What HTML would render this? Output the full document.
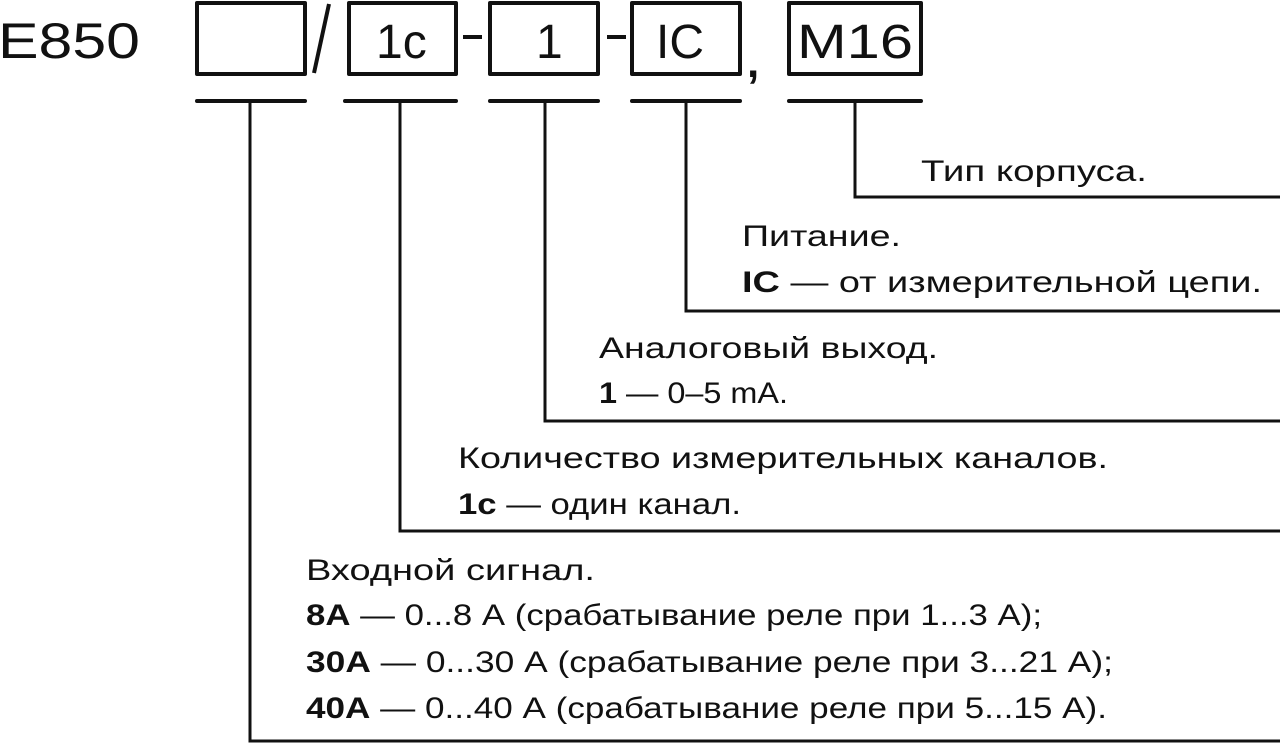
<!DOCTYPE html>
<html><head><meta charset="utf-8"><style>
html,body{margin:0;padding:0;background:#fff;}
svg{display:block;}
text{font-family:"Liberation Sans","DejaVu Sans",sans-serif;fill:#111;}
</style></head><body>
<svg width="1280" height="745" viewBox="0 0 1280 745" xmlns="http://www.w3.org/2000/svg">
<g fill="none" stroke="#111" stroke-width="4" stroke-linejoin="round">
<rect x="197" y="3" width="108" height="71"/>
<rect x="349" y="3" width="107" height="71"/>
<rect x="490" y="3" width="108" height="71"/>
<rect x="632" y="3" width="108" height="71"/>
<rect x="789" y="3" width="132" height="71"/>
</g>
<g stroke="#111" stroke-width="4" stroke-linecap="round">
<line x1="197" y1="101" x2="305" y2="101"/>
<line x1="345" y1="101" x2="456" y2="101"/>
<line x1="490" y1="101" x2="598" y2="101"/>
<line x1="632" y1="101" x2="740" y2="101"/>
<line x1="789" y1="101" x2="921" y2="101"/>
<line x1="314" y1="73" x2="329" y2="4" stroke-linecap="butt"/>
<line x1="463" y1="37" x2="482" y2="37" stroke-linecap="butt"/>
<line x1="607" y1="37" x2="626" y2="37" stroke-linecap="butt"/>
</g>
<g fill="none" stroke="#111" stroke-width="3">
<polyline points="250,101 250,741 1280,741"/>
<polyline points="400,101 400,531 1280,531"/>
<polyline points="545,101 545,421 1280,421"/>
<polyline points="686,101 686,311 1280,311"/>
<polyline points="855,101 855,197 1280,197"/>
</g>
<text x="-2" y="58" font-size="50" textLength="142" lengthAdjust="spacingAndGlyphs">E850</text>
<text x="376" y="58" font-size="48">1c</text>
<text x="536" y="58" font-size="48">1</text>
<text x="656" y="58" font-size="48">IC</text>
<text x="747" y="77" font-size="44" font-weight="bold">,</text>
<text x="797" y="58" font-size="48" textLength="116" lengthAdjust="spacingAndGlyphs">M16</text>
<g font-size="30">
<text x="921" y="181" textLength="226" lengthAdjust="spacingAndGlyphs">Тип корпуса.</text>
<text x="742" y="246" textLength="159" lengthAdjust="spacingAndGlyphs">Питание.</text>
<text x="742" y="292" textLength="520" lengthAdjust="spacingAndGlyphs"><tspan font-weight="bold">IC</tspan> — от измерительной цепи.</text>
<text x="599" y="358" textLength="339" lengthAdjust="spacingAndGlyphs">Аналоговый выход.</text>
<text x="599" y="403" textLength="189" lengthAdjust="spacingAndGlyphs"><tspan font-weight="bold">1</tspan> — 0–5 mA.</text>
<text x="458" y="468" textLength="650" lengthAdjust="spacingAndGlyphs">Количество измерительных каналов.</text>
<text x="458" y="514" textLength="283" lengthAdjust="spacingAndGlyphs"><tspan font-weight="bold">1c</tspan> — один канал.</text>
<text x="306" y="580" textLength="289" lengthAdjust="spacingAndGlyphs">Входной сигнал.</text>
<text x="306" y="625" textLength="736" lengthAdjust="spacingAndGlyphs"><tspan font-weight="bold">8A</tspan> — 0...8 А (срабатывание реле при 1...3 А);</text>
<text x="306" y="672" textLength="807" lengthAdjust="spacingAndGlyphs"><tspan font-weight="bold">30A</tspan> — 0...30 А (срабатывание реле при 3...21 А);</text>
<text x="306" y="718" textLength="801" lengthAdjust="spacingAndGlyphs"><tspan font-weight="bold">40A</tspan> — 0...40 А (срабатывание реле при 5...15 А).</text>
</g>
</svg>
</body></html>
